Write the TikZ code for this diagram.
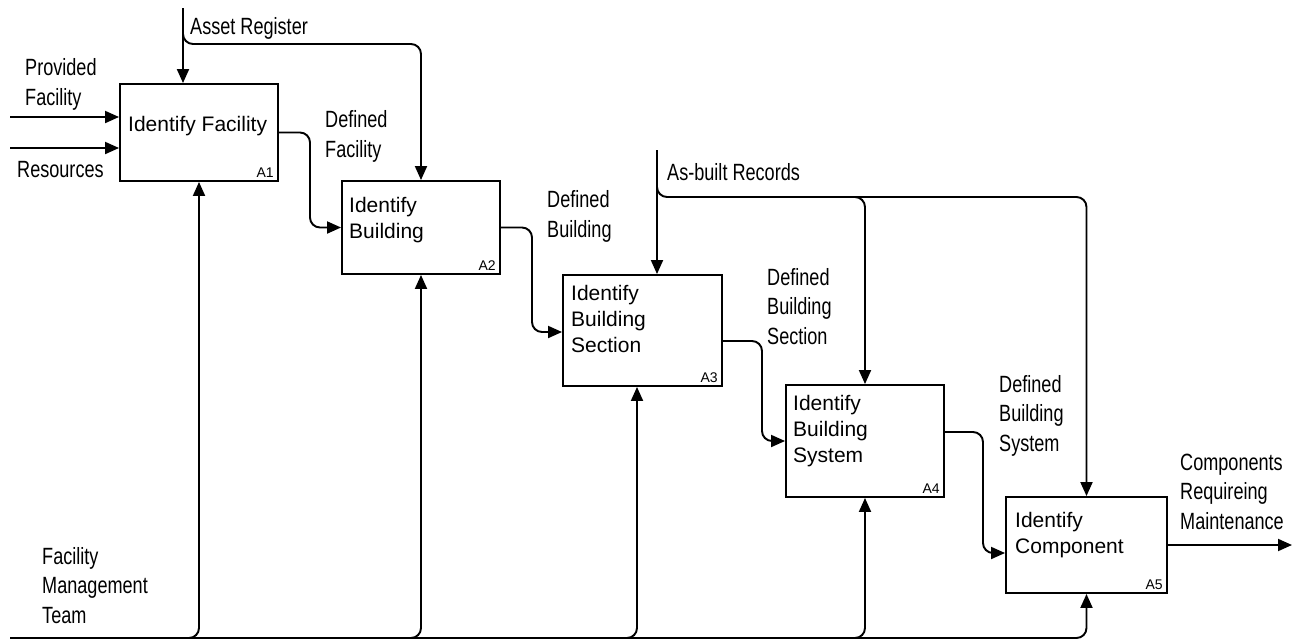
\documentclass[tikz,border=0pt]{standalone}
\usepackage{fontspec}
\setmainfont{Liberation Sans}
\newfontfamily\lblfont[FakeStretch=0.77]{Liberation Sans}
\usetikzlibrary{arrows.meta}

\tikzset{
  activity/.style={draw, line width=1.9pt, inner sep=0pt},
  % multi-line text: the base anchor sits on the last line
  boxtext/.style={anchor=base west, inner sep=0pt, align=left,
    font=\fontsize{21}{26}\selectfont},
  nodeno/.style={anchor=base east, inner sep=0pt,
    font=\fontsize{14}{16}\selectfont, xshift=-5pt, yshift=4.5pt},
  lbl/.style={anchor=base west, inner sep=0pt, align=left,
    font=\lblfont\fontsize{23.5}{29.5}\selectfont},
  flow/.style={line width=1.9pt, rounded corners=10pt,
    -{Triangle[length=14pt,width=12pt]}},
}

\begin{document}
\begin{tikzpicture}[x=1pt, y=-1pt]
\useasboundingbox (0,0) rectangle (1307,643);

% activity boxes
\node[activity, minimum width=158pt, minimum height=97pt]  (a1) at (199,132.5) {};
\node[activity, minimum width=158pt, minimum height=93pt]  (a2) at (421,227.5) {};
\node[activity, minimum width=159pt, minimum height=111pt] (a3) at (642.5,330.5) {};
\node[activity, minimum width=158pt, minimum height=112pt] (a4) at (865,441) {};
\node[activity, minimum width=161pt, minimum height=96pt]  (a5) at (1086.5,545) {};

% box titles
\node[boxtext] (a1t) at (128,131) {Identify Facility};
\node[boxtext] (a2t) at (349,238) {Identify\\Building};
\node[boxtext] (a3t) at (571,352) {Identify\\Building\\Section};
\node[boxtext] (a4t) at (793,462) {Identify\\Building\\System};
\node[boxtext] (a5t) at (1015,553) {Identify\\Component};

% node numbers
\node[nodeno] (a1n) at (a1.south east) {A1};
\node[nodeno] (a2n) at (a2.south east) {A2};
\node[nodeno] (a3n) at (a3.south east) {A3};
\node[nodeno] (a4n) at (a4.south east) {A4};
\node[nodeno] (a5n) at (a5.south east) {A5};

% arrow labels
\node[lbl] (lpf)  at (25,105)   {Provided\\Facility};
\node[lbl] (lres) at (17,177)   {Resources};
\node[lbl] (lar)  at (190,34)   {Asset Register};
\node[lbl] (ldf)  at (325,157)  {Defined\\Facility};
\node[lbl] (ldb)  at (547,237)  {Defined\\Building};
\node[lbl] (labr) at (667,180)  {As-built Records};
\node[lbl] (ldbs) at (767,344)  {Defined\\Building\\Section};
\node[lbl] (ldby) at (999,451)  {Defined\\Building\\System};
\node[lbl] (lcrm) at (1180,529) {Components\\Requireing\\Maintenance};
\node[lbl] (lfmt) at (42,623)   {Facility\\Management\\Team};

% free ends
\coordinate (pfin)   at (10,117);
\coordinate (resin)  at (10,148);
\coordinate (arsrc)  at (183,8);
\coordinate (absrc)  at (657,150);
\coordinate (fmtsrc) at (10,638);
\coordinate (crmout) at (1292,545);

% inputs
\draw[flow] (pfin) -- (pfin -| a1.west);
\draw[flow] (resin) -- (resin -| a1.west);

% controls
\draw[flow] (arsrc) -- (arsrc |- a1.north);
\draw[flow] (183,30) |- (a2.north |- 0,44) -- (a2.north);
\draw[flow] (absrc) -- (absrc |- a3.north);
\draw[flow] (657,180) |- (a5.north |- 0,197) -- (a5.north);
\draw[flow] (845,197) -| (a4.north);

% outputs feeding the next activity
\draw[flow] (a1.east) -| (310,180) |- (a2.west);
\draw[flow] (a2.east) -| (532,280) |- (a3.west |- 0,332);
\draw[flow] (a3.east |- 0,341) -| (762,390) |- (a4.west);
\draw[flow] (a4.east |- 0,432) -| (983,490) |- (a5.west |- 0,553);
\draw[flow] (a5.east) -- (crmout);

% mechanism
\draw[flow] (fmtsrc) -| (a5.south);
\draw[flow] (185,638) -| (a1.south);
\draw[flow] (405,638) -| (a2.south);
\draw[flow] (620,638) -| (a3.south -| 637,0);
\draw[flow] (845,638) -| (a4.south);
\end{tikzpicture}
\end{document}
